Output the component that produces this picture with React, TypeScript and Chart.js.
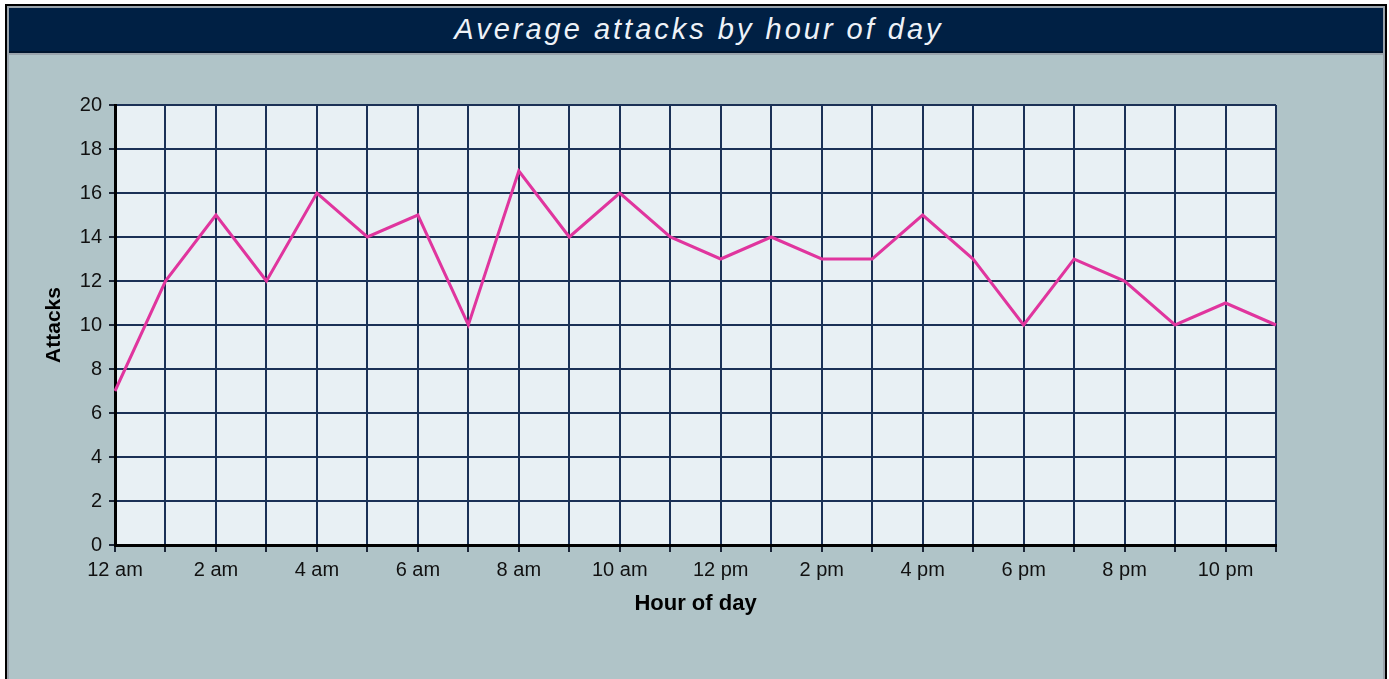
import React, { useEffect, useRef } from 'react';
import { Chart, registerables } from 'chart.js';

Chart.register(...registerables);

const chartTitle = 'Average attacks by hour of day';
const xAxisTitle = 'Hour of day';
const yAxisTitle = 'Attacks';

const hours = [
  '12 am', '1 am', '2 am', '3 am', '4 am', '5 am', '6 am', '7 am', '8 am', '9 am', '10 am', '11 am',
  '12 pm', '1 pm', '2 pm', '3 pm', '4 pm', '5 pm', '6 pm', '7 pm', '8 pm', '9 pm', '10 pm', '11 pm',
];
const attacks = [7, 12, 15, 12, 16, 14, 15, 10, 17, 14, 16, 14, 13, 14, 13, 13, 15, 13, 10, 13, 12, 10, 11, 10];

const yMin = 0;
const yMax = 20;
const yStep = 2;

const FONT = "'Liberation Sans', Arial, Helvetica, sans-serif";

const plotBg = {
  id: 'plotBg',
  beforeDraw(chart: any) {
    const { ctx, chartArea } = chart;
    if (!chartArea) return;
    ctx.save();
    ctx.fillStyle = '#e8f0f4';
    ctx.fillRect(chartArea.left, chartArea.top, chartArea.right - chartArea.left, chartArea.bottom - chartArea.top);
    ctx.restore();
  },
};

export default function App() {
  const ref = useRef<HTMLCanvasElement | null>(null);

  useEffect(() => {
    if (!ref.current) return;
    const chart = new Chart(ref.current, {
      type: 'line',
      data: {
        labels: hours,
        datasets: [
          {
            label: yAxisTitle,
            data: attacks,
            borderColor: '#e0359e',
            borderWidth: 3,
            pointRadius: 0,
            tension: 0,
            fill: false,
          },
        ],
      },
      options: {
        animation: false,
        responsive: false,
        layout: { padding: { left: 42, right: 113, top: 49, bottom: 60 } },
        plugins: {
          legend: { display: false },
          tooltip: { enabled: false },
          title: { display: false },
        },
        scales: {
          x: {
            type: 'category',
            offset: false,
            afterFit: (s: any) => { s.height = 74; },
            grid: { color: '#1b3156', lineWidth: 2, tickLength: 7, tickColor: '#1a2436', drawTicks: true },
            border: { display: true, color: '#000000', width: 3 },
            ticks: {
              autoSkip: false,
              maxRotation: 0,
              minRotation: 0,
              padding: 6,
              color: '#111111',
              font: { family: FONT, size: 20 },
              callback: (_v: any, i: number) => (i % 2 === 0 ? hours[i] : ''),
            },
            title: {
              display: true,
              text: xAxisTitle,
              color: '#000000',
              font: { family: FONT, size: 22, weight: 'bold' },
              padding: { top: 0, bottom: 2 },
            },
          },
          y: {
            min: yMin,
            max: yMax,
            afterFit: (s: any) => { s.width = 73; },
            grid: { color: '#1b3156', lineWidth: 2, tickLength: 6, tickColor: '#1a2436', drawTicks: true },
            border: { display: true, color: '#000000', width: 3 },
            ticks: {
              stepSize: yStep,
              padding: 7,
              color: '#111111',
              font: { family: FONT, size: 20 },
            },
            title: {
              display: true,
              text: yAxisTitle,
              color: '#000000',
              font: { family: FONT, size: 21, weight: 'bold' },
              padding: { top: 0, bottom: 0 },
            },
          },
        },
      },
      plugins: [plotBg],
    });
    return () => chart.destroy();
  }, []);

  return (
    <div>
      <div
        style={{
          position: 'absolute',
          left: 5,
          top: 4,
          width: 1382,
          height: 675,
          boxSizing: 'border-box',
          borderTop: '2px solid #000',
          borderLeft: '2px solid #000',
          borderRight: '2px solid #000',
          padding: '2px 2px 0 2px',
          background: '#9aa4ac',
        }}
      >
        <div
          style={{
            height: 45,
            background: '#002044',
            borderBottom: '2px solid #00152e',
            display: 'flex',
            alignItems: 'center',
            justifyContent: 'center',
            color: '#eef2f8',
            fontFamily: FONT,
            fontStyle: 'italic',
            fontSize: 29,
            letterSpacing: '3px',
            paddingLeft: 6,
            boxSizing: 'border-box',
          }}
        >
          {chartTitle}
        </div>
        <div style={{ position: 'absolute', left: 2, right: 2, top: 49, bottom: 0, background: '#b0c4c8' }} />
      </div>
      <canvas
        ref={ref}
        width={1389}
        height={623}
        style={{ position: 'absolute', left: 0, top: 56, width: 1389, height: 623 }}
      />
    </div>
  );
}
